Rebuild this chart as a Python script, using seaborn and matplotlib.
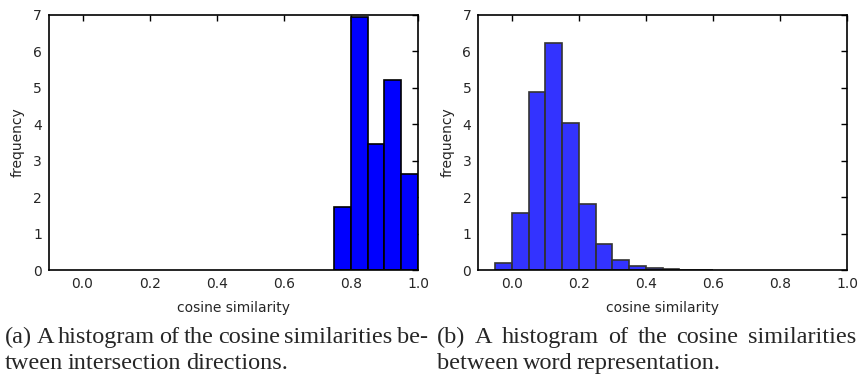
import numpy as np
import matplotlib
matplotlib.use("Agg")
import matplotlib.pyplot as plt
import seaborn as sns

# ---- data ----
edges_a = [0.75, 0.80, 0.85, 0.90, 0.95, 1.00]
dens_a = [1.74, 6.94, 3.46, 5.22, 2.64]

edges_b = [-0.05, 0.00, 0.05, 0.10, 0.15, 0.20, 0.25, 0.30, 0.35, 0.40,
           0.45, 0.50, 0.55, 0.60]
dens_b = [0.18, 1.57, 4.88, 6.23, 4.03, 1.81, 0.72, 0.27, 0.12, 0.05,
          0.02, 0.01, 0.005]

xticks = [0.0, 0.2, 0.4, 0.6, 0.8, 1.0]
yticks = [0, 1, 2, 3, 4, 5, 6, 7]
xlabel = "cosine similarity"
ylabel = "frequency"
cap_a = ["(a) A histogram of the cosine similarities be-",
         "tween intersection directions."]
cap_b = ["(b) A histogram of the cosine similarities",
         "between word representation."]

sns.set_style("white")
plt.rcParams['font.family'] = ['DejaVu Sans']

fig = plt.figure(figsize=(8.6, 3.76), dpi=100)
W, H = 860, 376


def axes_px(x0, x1, y0, y1):
    return fig.add_axes([x0 / W, 1 - y1 / H, (x1 - x0) / W, (y1 - y0) / H])


ax1 = axes_px(49, 418, 15, 270)
ax2 = axes_px(478.3, 847, 15, 270)


def centers(e):
    return [(e[i] + e[i + 1]) / 2 for i in range(len(e) - 1)]


sns.histplot(x=centers(edges_a), weights=dens_a, bins=edges_a, ax=ax1,
             color="#0000ff", alpha=1.0, edgecolor="black", linewidth=1.2)
sns.histplot(x=centers(edges_b), weights=dens_b, bins=edges_b, ax=ax2,
             color="#0000ff", alpha=0.8, edgecolor="#333333", linewidth=1.2)

for ax in (ax1, ax2):
    ax.set_xlim(-0.1, 1.0)
    ax.set_ylim(0, 7)
    ax.set_xticks(xticks)
    ax.set_yticks(yticks)
    ax.set_xticklabels([f"{v:.1f}" for v in xticks])
    ax.tick_params(direction="in", top=True, right=True, length=4,
                   width=1, labelsize=10, pad=5, color="black")
    for s in ax.spines.values():
        s.set_visible(True)
        s.set_color("black")
        s.set_linewidth(1.2)
    ax.set_xlabel(xlabel, fontsize=10, labelpad=7)
    ax.set_ylabel(ylabel, fontsize=10, labelpad=6)

# captions
fig.canvas.draw()
renderer = fig.canvas.get_renderer()
serif = dict(family="Liberation Serif", fontsize=17.5)


def justify(words_line, x0, x1, ypx, justify_it=True):
    words = words_line.split(" ")
    texts = []
    widths = []
    for w in words:
        t = fig.text(0, 1 - ypx / H, w, va="baseline", ha="left", **serif)
        bb = t.get_window_extent(renderer)
        texts.append(t)
        widths.append(bb.width)
    total = sum(widths)
    if justify_it and len(words) > 1:
        gap = (x1 - x0 - total) / (len(words) - 1)
        gap = max(gap, 2.0)
    else:
        gap = 4.5
    x = x0
    for t, w in zip(texts, widths):
        t.set_x(x / W)
        x += w + gap


justify(cap_a[0], 5, 428, 343)
justify(cap_a[1], 5, 428, 369, justify_it=False)
justify(cap_b[0], 437, 856, 343)
justify(cap_b[1], 437, 856, 369, justify_it=False)

fig.savefig("out.png", dpi=100)
